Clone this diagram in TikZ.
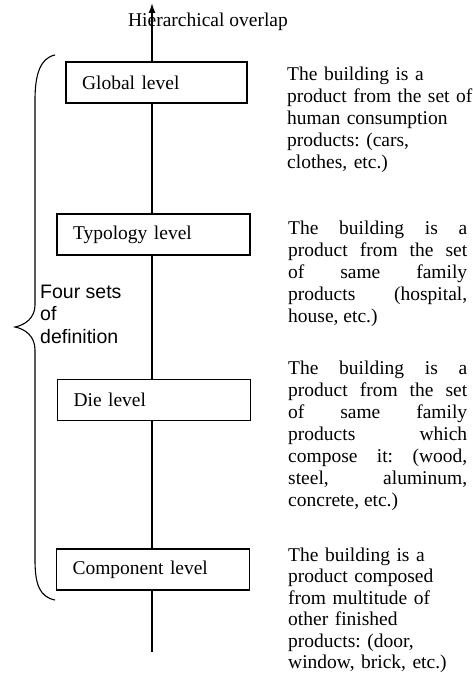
\documentclass[tikz,border=0pt]{standalone}
\usepackage{fontspec}
\setmainfont{Liberation Serif}
\newfontfamily\arialfont{Liberation Sans}
\usetikzlibrary{arrows.meta}
\frenchspacing

\tikzset{
  levelbox/.style={draw, line width=1.2pt, fill=white, minimum height=41pt,
    inner xsep=16pt, align=left, font=\fontsize{19.5}{22.5}\selectfont},
  desc/.style={anchor=base west, inner sep=0pt, text width=179pt,
    font=\fontsize{19.5}{22}\selectfont},
  axisline/.style={line width=1.4pt}
}

\begin{document}
\begin{tikzpicture}[x=1pt, y=-1pt]
    \useasboundingbox (0,0) rectangle (472,674);

    % Levels
    \node[levelbox, text width=149pt] (glob) at (156.5,82.5) {Global level};
    \node[levelbox, text width=161pt] (typ) at (153.5,234.5) {Typology level};
    \node[levelbox, text width=161pt] (die) at (154,400) {Die level};
    \node[levelbox, text width=161pt] (comp) at (153,569.5) {Component level};

    % Axis
    \coordinate (top) at (152,3);
    \coordinate (bot) at (152,652);
    \node[anchor=base, inner sep=0pt, font=\fontsize{19.5}{22}\selectfont] (title) at (208,27) {Hierarchical overlap};
    \draw[axisline, -{Latex[length=10pt,width=7pt]}] (glob.north -| top) -- (top);
    \foreach \a/\b in {glob/typ, typ/die, die/comp} {
        \draw[axisline] (\a.south -| top) -- (\b.north -| top);
    }
    \draw[axisline] (comp.south -| top) -- (bot);

    % Descriptions
    \node[desc, text width=200pt, align=left] (d1) at (287,80.5) {The building is a\\product from the set of\\human consumption\\products: (cars,\\clothes, etc.)};
    \node[desc, align=justify] (d2) at (288,234.5) {The building is a\linebreak product from the set\linebreak of same family\linebreak products (hospital,\linebreak house, etc.)};
    \node[desc, align=justify] (d3) at (288,374.5) {The building is a\linebreak product from the set\linebreak of same family\linebreak products which\linebreak compose it: (wood,\linebreak steel, aluminum,\linebreak concrete, etc.)};
    \node[desc, align=left, font=\fontsize{19.5}{21.5}\selectfont] (d4) at (288,561) {The building is a\\product composed\\from multitude of\\other finished\\products: (door,\\window, brick, etc.)};

    % Brace
    \draw[line width=1.1pt] (55,55) .. controls (40,58) and (35,75) .. (35,100)
        -- (35,305) .. controls (35,318) and (25,325) .. (15,327)
        .. controls (25,329) and (35,336) .. (35,350)
        -- (35,560) .. controls (35,585) and (40,597) .. (55,600);
    \node[anchor=base west, inner sep=0pt, align=left,
        font=\arialfont\fontsize{19.5}{22.5}\selectfont] (sets) at (40,343) {Four sets\\of\\definition};
\end{tikzpicture}
\end{document}
